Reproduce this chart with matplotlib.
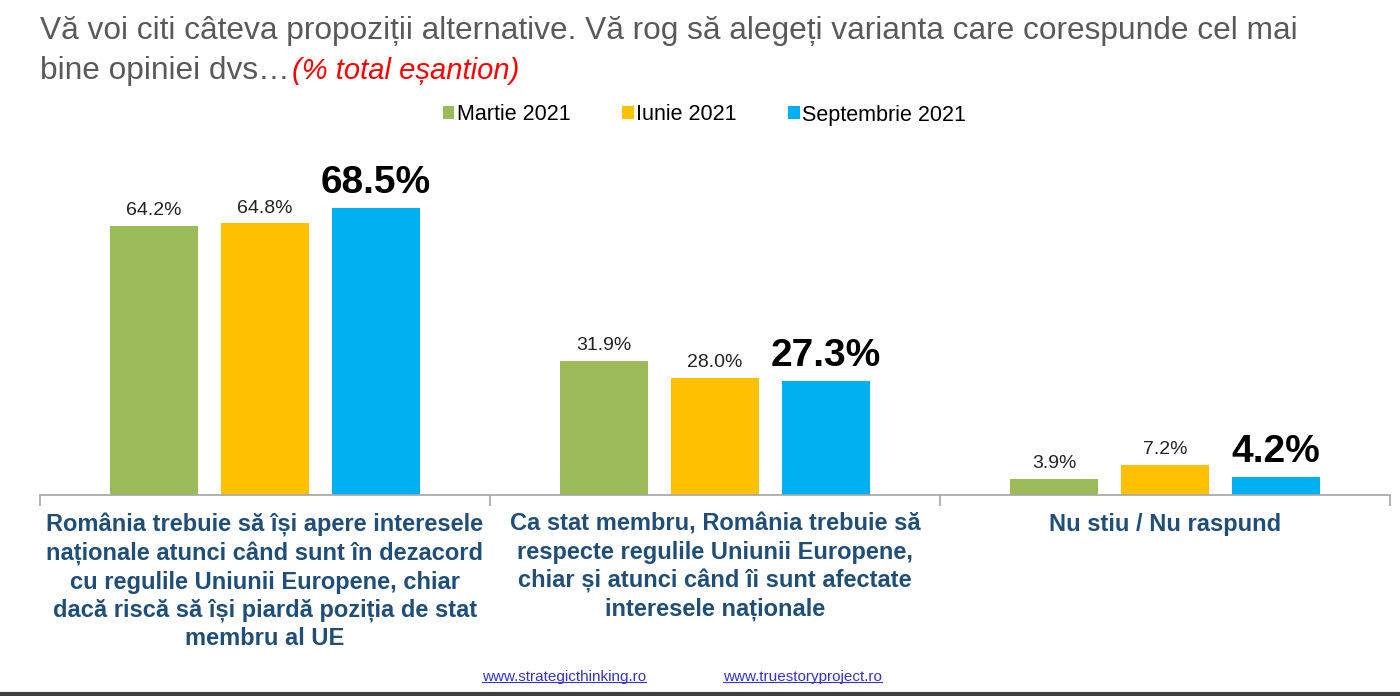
import numpy as np
import matplotlib.pyplot as plt
from matplotlib.patches import Patch

plt.rcParams['font.family'] = ['Liberation Sans', 'DejaVu Sans']

# Data #########################################################
categories = ['România trebuie să își apere interesele\nnaționale atunci când sunt în dezacord\ncu regulile Uniunii Europene, chiar\ndacă riscă să își piardă poziția de stat\nmembru al UE',
              'Ca stat membru, România trebuie să\nrespecte regulile Uniunii Europene,\nchiar și atunci când îi sunt afectate\ninteresele naționale',
              'Nu stiu / Nu raspund']
series = ['Martie 2021', 'Iunie 2021', 'Septembrie 2021']
martie = [64.2, 31.9, 3.9]
iunie = [64.8, 28.0, 7.2]
septembrie = [68.5, 27.3, 4.2]
colors = ['#9BBB59', '#FFC000', '#00B0F0']
###############################################################

fig = plt.figure(figsize=(14, 6.96), dpi=100)
ax = fig.add_axes([40/1400, 1-495/696, 1350/1400, 355/696])

x = np.arange(len(categories))
w = 88/450
step = 111/450
values = [martie, iunie, septembrie]
for i, (vals, col) in enumerate(zip(values, colors)):
    pos = x + (i-1)*step
    ax.bar(pos, vals, width=w, color=col)
    for p, v in zip(pos, vals):
        if i == 2:
            ax.annotate('%.1f%%' % v, (p, v), xytext=(0, 5), textcoords='offset points',
                        ha='center', va='bottom', fontsize=28, fontweight='bold', color='black')
        else:
            ax.annotate('%.1f%%' % v, (p, v), xytext=(0, 5), textcoords='offset points',
                        ha='center', va='bottom', fontsize=14, color='#222222')

ax.set_xlim(-0.5, 2.5)
ax.set_ylim(0, 355/4.19)
for s in ['top', 'right', 'left']:
    ax.spines[s].set_visible(False)
ax.spines['bottom'].set_color('#A6A6A6')
ax.spines['bottom'].set_linewidth(1.2)
ax.set_yticks([])
ax.set_xticks([])
ax.set_xticks([-0.5, 0.5, 1.5, 2.5], minor=True)
ax.tick_params(axis='x', which='minor', length=8, color='#A6A6A6', width=1.2, labelbottom=False)

for xi, c in zip(x, categories):
    ax.text(xi, -0.05, c, transform=ax.get_xaxis_transform(), ha='center', va='top',
            fontsize=17, fontweight='bold', color='#1F4E79', linespacing=1.27)

# Title ########################################################
fig.text(40/1400, 1-31/696, 'Vă voi citi câteva propoziții alternative. Vă rog să alegeți varianta care corespunde cel mai',
         fontsize=22.8, color='#595959', va='center', ha='left')
t2 = fig.text(40/1400, 1-71/696, 'bine opiniei dvs…', fontsize=22.8, color='#595959', va='center', ha='left')
fig.canvas.draw()
bb = t2.get_window_extent(fig.canvas.get_renderer())
fig.text((bb.x1+2)/1400, 1-71/696, '(% total eșantion)', fontsize=21, color='#FF0000',
         style='italic', va='center', ha='left')

# Legend #######################################################
handles = [Patch(facecolor=c, edgecolor='none') for c in colors]
fig.legend(handles, series, loc='center', bbox_to_anchor=(0.503, 1-115/696), ncol=3,
           frameon=False, fontsize=15.5, handlelength=0.55, handleheight=0.55,
           handletextpad=0.1, columnspacing=2.4)

# Footer #######################################################
for xs, txt in [(482, 'www.strategicthinking.ro'), (723, 'www.truestoryproject.ro')]:
    t = fig.text(xs/1400, 1-677/696, txt, fontsize=11, color='#3333CC', ha='left', va='center')
    fig.canvas.draw()
    b = t.get_window_extent(fig.canvas.get_renderer())
    fig.add_artist(plt.Line2D([b.x0/1400, b.x1/1400], [(b.y0+2)/696, (b.y0+2)/696],
                              color='#3333CC', lw=0.8))
fig.add_artist(plt.Line2D([0, 1], [2/696, 2/696], color='#404040', lw=3))

fig.savefig('out.png', dpi=100, facecolor='white')
